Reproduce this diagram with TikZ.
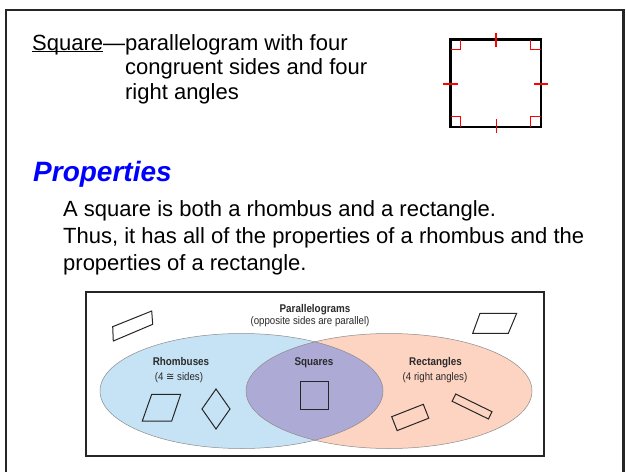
\documentclass[tikz,border=0pt]{standalone}
\usepackage{fontspec}
\setmainfont{Liberation Sans}
\newfontfamily\condfont[FakeStretch=0.88]{Liberation Sans}
\newfontfamily\symfont[FakeStretch=0.9]{DejaVu Sans}
\definecolor{rhombblue}{HTML}{C6E3F5}
\definecolor{rectpink}{HTML}{FDD3C2}
\definecolor{sqpurple}{HTML}{ADAAD6}
\definecolor{titleblue}{HTML}{0000FF}
\definecolor{venntext}{HTML}{2A2A2A}
\newcommand\myul[1]{\setbox0\hbox{#1}\rlap{\rule[-2.4pt]{\wd0}{1pt}}\box0}
\begin{document}
\begin{tikzpicture}[x=1pt,y=-1pt,
  bodytext/.style={anchor=base west, inner sep=0pt, font=\fontsize{22}{26}\selectfont},
  vtitle/.style={anchor=base, inner sep=0pt, font=\condfont\bfseries\fontsize{11.2}{13}\selectfont, text=venntext},
  vsub/.style={anchor=base, inner sep=0pt, font=\condfont\fontsize{11}{13}\selectfont, text=venntext},
  fig/.style={draw=black!85, line width=1pt, line join=miter},
  redmark/.style={draw=red, line width=1.5pt},
  redtick/.style={fill=red},
  outline/.style={draw=black!45, line width=0.5pt}]
\useasboundingbox (0,0) rectangle (626,471);
\clip (0,0) rectangle (626,471);
\fill[white] (0,0) rectangle (626,471);
% slide frame
\draw[line width=2.3pt, draw=black!85] (6.2,9.8) rectangle (623.5,520);

% definition
\node[anchor=base west, inner sep=0pt, font=\fontsize{22}{24.5}\selectfont] (def) at (32,50)
  {\begin{tabular}[t]{@{}l@{}l@{}}\myul{Square}---&parallelogram with four\\ &congruent sides and four\\ &right angles\end{tabular}};

% square figure
\draw[line width=2.3pt, draw=black, line join=miter] (450.5,39.5) rectangle (540.7,126.7);
\draw[redmark] (450.5,49.5) -- (460.5,49.5) -- (460.5,39.5);
\draw[redmark] (530.7,39.5) -- (530.7,49.5) -- (540.7,49.5);
\draw[redmark] (450.5,116.7) -- (460.5,116.7) -- (460.5,126.7);
\draw[redmark] (540.7,116.7) -- (530.7,116.7) -- (530.7,126.7);
\draw[redmark] (496,32.7) -- (496,46.7);
\draw[redmark] (496.5,119.3) -- (496.5,133.3);
\fill[redtick] (442.7,82.5) rectangle (457.5,84.5);
\fill[redtick] (533.5,82.5) rectangle (547.7,84.5);

% properties
\node[anchor=base west, inner sep=0pt, font=\bfseries\itshape\fontsize{28}{32}\selectfont, text=titleblue] (props) at (33,181.5) {Properties};
\node[bodytext] (b1) at (63,216) {A square is both a rhombus and a rectangle.};
\node[bodytext] (b2) at (63,243.5) {Thus, it has all of the properties of a rhombus and the};
\node[bodytext] (b3) at (63,270) {properties of a rectangle.};

% venn diagram
\draw[line width=1.1pt, draw=black!85] (86,292) rectangle (544,456);
\fill[rhombblue] (241.5,391) ellipse [x radius=141.5, y radius=57.5];
\fill[rectpink] (389,391) ellipse [x radius=143, y radius=57.5];
\begin{scope}
  \clip (241.5,391) ellipse [x radius=141.5, y radius=57.5];
  \fill[sqpurple] (389,391) ellipse [x radius=143, y radius=57.5];
\end{scope}
\draw[outline] (241.5,391) ellipse [x radius=141.5, y radius=57.5];
\draw[outline] (389,391) ellipse [x radius=143, y radius=57.5];

% small shapes
\draw[fig] (112.7,326.7) -- (151.7,311) -- (152.7,324.3) -- (113.3,341) -- cycle;
\draw[fig] (480,313.3) -- (516.7,313.3) -- (508.3,333.3) -- (472.7,333.3) -- cycle;
\draw[fig] (151.7,394.3) -- (180.7,394.3) -- (171.7,421) -- (142.3,421) -- cycle;
\draw[fig] (216,389) -- (230,409) -- (216,429) -- (202,409) -- cycle;
\draw[fig] (300,381) rectangle (328.3,409);
\draw[fig] (391.7,416.7) -- (423.3,404.3) -- (428.75,418.2) -- (397.15,430.6) -- cycle;
\draw[fig] (455.7,394) -- (492,411.7) -- (488.45,418.98) -- (452.15,401.28) -- cycle;

% venn labels
\node[vtitle] (par) at (315,312) {Parallelograms};
\node[vsub] (parsub) at (310,324.5) {(opposite sides are parallel)};
\node[vtitle] (rho) at (181,365) {Rhombuses};
\node[vsub] (rhosub) at (179,380) {(4 {\symfont ≅} sides)};
\node[vtitle] (sqs) at (314,365) {Squares};
\node[vtitle] (rec) at (435.5,365) {Rectangles};
\node[vsub] (recsub) at (435,380) {(4 right angles)};
\end{tikzpicture}
\end{document}
